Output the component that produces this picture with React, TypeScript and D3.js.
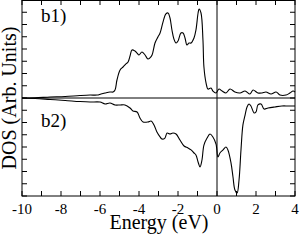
import React from "react";
import * as d3 from "d3";

const upE = [-10, -9.33, -8.56, -7.79, -7.03, -6.51, -6.15, -5.95, -5.74, -5.49, -5.33, -5.23, -5.13, -4.97, -4.82, -4.67, -4.56, -4.46, -4.36, -4.21, -4.1, -4.0, -3.85, -3.69, -3.54, -3.44, -3.33, -3.18, -3.03, -2.92, -2.77, -2.62, -2.51, -2.41, -2.31, -2.21, -2.1, -2.0, -1.85, -1.74, -1.64, -1.54, -1.44, -1.33, -1.18, -1.08, -0.97, -0.92, -0.82, -0.72, -0.67, -0.56, -0.46, -0.31, -0.21, -0.05, 0.1, 0.26, 0.46, 0.67, 0.92, 1.18, 1.44, 1.69, 1.85, 2.1, 2.31, 2.51, 2.77, 3.03, 3.23, 3.54, 3.74, 3.9, 4.0];
const upDos = [0, 0.02, 0.08, 0.12, 0.2, 0.24, 0.24, 0.33, 0.41, 0.49, 0.49, 0.65, 1.47, 2.29, 2.53, 2.78, 2.94, 3.43, 3.92, 3.84, 3.67, 3.51, 3.76, 3.51, 3.18, 3.27, 3.51, 4.49, 4.98, 5.31, 6.2, 6.86, 6.94, 6.53, 5.55, 4.82, 4.49, 4.65, 5.31, 5.31, 4.9, 4.33, 4.49, 4.49, 4.9, 5.55, 6.94, 7.27, 6.94, 4.73, 2.53, 1.22, 0.73, 0.82, 0.57, 0.41, 0.73, 0.57, 0.41, 0.73, 0.49, 0.41, 0.57, 0.33, 0.65, 0.41, 0.41, 0.49, 0.33, 0.49, 0.24, 0.24, 0.41, 0.57, 0.49];

const dnE = [-10, -9.33, -8.56, -7.79, -7.03, -6.51, -6.0, -5.74, -5.49, -5.23, -4.97, -4.72, -4.46, -4.31, -4.1, -3.95, -3.79, -3.54, -3.38, -3.23, -3.08, -2.92, -2.82, -2.67, -2.56, -2.41, -2.26, -2.1, -1.9, -1.69, -1.49, -1.33, -1.18, -1.08, -0.97, -0.87, -0.77, -0.67, -0.51, -0.36, -0.21, -0.05, 0.05, 0.15, 0.31, 0.46, 0.56, 0.72, 0.82, 0.92, 1.03, 1.13, 1.23, 1.33, 1.44, 1.54, 1.64, 1.74, 1.9, 2.0, 2.1, 2.26, 2.41, 2.62, 2.97, 3.33, 3.64, 4.0];
const dnDos = [0, -0.04, -0.12, -0.2, -0.29, -0.33, -0.33, -0.49, -0.41, -0.57, -0.57, -0.57, -0.82, -1.06, -1.14, -1.63, -1.96, -1.96, -1.88, -2.2, -2.78, -3.18, -3.35, -3.27, -2.86, -2.94, -2.86, -2.94, -3.43, -3.92, -4.08, -4.24, -4.49, -4.65, -5.22, -5.63, -5.06, -3.84, -3.27, -2.94, -3.18, -3.76, -4.82, -4.49, -4.24, -4.0, -4.24, -5.31, -6.45, -7.51, -7.76, -6.69, -4.24, -2.2, -1.39, -0.73, -0.49, -0.65, -1.22, -1.14, -0.57, -0.49, -0.9, -0.82, -0.73, -0.65, -0.65, -0.65];

const xTickLabels = [-10, -8, -6, -4, -2, 0, 2, 4];
const xMinorTicks = d3.range(-10, 5, 1);
const yTicks = d3.range(-8, 9, 1);
const panelLabels = ["b1)", "b2)"];

export default function App() {
  const L = 22, R = 295, T = 0, B = 196;
  const x = d3.scaleLinear().domain([-10, 4]).range([L, R]);
  const y = d3.scaleLinear().domain([-8, 8]).range([B, T]);
  const line = d3.line<[number, number]>().x(d => x(d[0])).y(d => y(d[1])).curve(d3.curveCatmullRom.alpha(0.5));
  const up = upE.map((e, i) => [e, upDos[i]] as [number, number]);
  const dn = dnE.map((e, i) => [e, dnDos[i]] as [number, number]);
  const font = "Liberation Serif, DejaVu Serif, serif";
  const ts = { fontFamily: font };
  const tl = 5;
  return (
    <svg width={300} height={243} style={{ position: "absolute", left: 0, top: 0, background: "#fff" }}>
      <rect x={0} y={0} width={300} height={243} fill="#fff" />
      <g stroke="#000" strokeWidth={1} fill="none">
        <rect x={L} y={T + 0.5} width={R - L} height={B - T - 0.5} />
        <line x1={L} x2={R} y1={y(0)} y2={y(0)} />
        <line x1={x(0)} x2={x(0)} y1={T} y2={B} />
        {xMinorTicks.map(t => (
          <g key={"xt" + t}>
            <line x1={x(t)} x2={x(t)} y1={B} y2={B - tl} />
            <line x1={x(t)} x2={x(t)} y1={T} y2={T + tl} />
          </g>
        ))}
        {yTicks.map(t => (
          <g key={"yt" + t}>
            <line x1={L} x2={L + tl} y1={y(t)} y2={y(t)} />
            <line x1={R} x2={R - tl} y1={y(t)} y2={y(t)} />
          </g>
        ))}
        <path d={line(up) || ""} strokeWidth={1.1} />
        <path d={line(dn) || ""} strokeWidth={1.1} />
      </g>
      <g fill="#000">
        {xTickLabels.map(t => (
          <text key={"xl" + t} style={ts} x={x(t)} y={214} fontSize={15} textAnchor="middle">{t}</text>
        ))}
        <text style={ts} x={159} y={229} fontSize={20} textAnchor="middle">Energy (eV)</text>
        <text style={ts} transform={`translate(16,${y(0)}) rotate(-90)`} fontSize={20} textAnchor="middle">DOS (Arb. Units)</text>
        <text style={ts} x={41} y={22} fontSize={19}>{panelLabels[0]}</text>
        <text style={ts} x={41} y={127} fontSize={19}>{panelLabels[1]}</text>
      </g>
    </svg>
  );
}
